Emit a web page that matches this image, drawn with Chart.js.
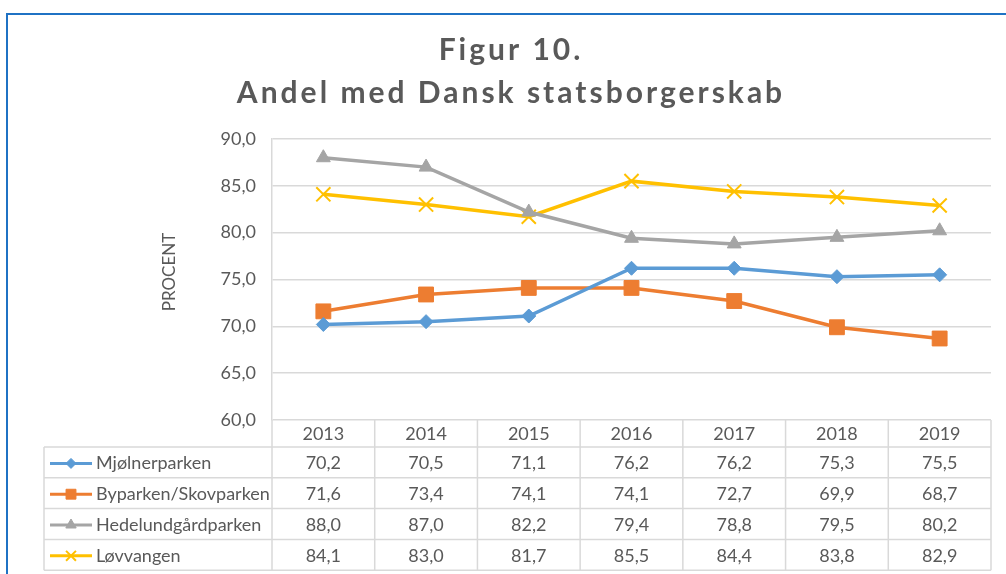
<!DOCTYPE html>
<html>
<head>
<meta charset="utf-8">
<script src="https://cdn.jsdelivr.net/npm/chart.js@4.4.1/dist/chart.umd.min.js"></script>
<style>
  html, body { margin: 0; padding: 0; background: #fff; }
  #wrap { width: 1006px; height: 574px; position: relative; }
</style>
</head>
<body>
<div id="wrap"><canvas id="figChart" width="1006" height="574"></canvas></div>
<script>
const years = ['2013', '2014', '2015', '2016', '2017', '2018', '2019'];
const mjolnerparken = [70.2, 70.5, 71.1, 76.2, 76.2, 75.3, 75.5];
const byparken = [71.6, 73.4, 74.1, 74.1, 72.7, 69.9, 68.7];
const hedelund = [88.0, 87.0, 82.2, 79.4, 78.8, 79.5, 80.2];
const lovvangen = [84.1, 83.0, 81.7, 85.5, 84.4, 83.8, 82.9];
const titleLines = ['Figur 10.', 'Andel med Dansk statsborgerskab'];
const yTitle = 'PROCENT';

const FONT = 'Lato, "Open Sans", sans-serif';
const TEXT = '#595959';
const GRID = '#d9d9d9';

const fmt = v => v.toFixed(1).replace('.', ',');

function series(label, data, color, style, radius, keyRadius) {
    return {
        label: label,
        data: data,
        borderColor: color,
        backgroundColor: color,
        borderWidth: 3.5,
        pointStyle: style,
        pointRadius: radius,
        pointHoverRadius: radius,
        pointBorderWidth: style === 'crossRot' ? 2 : 1,
        keyRadius: keyRadius,
        tension: 0
    };
}

// title, outer frame, axis title and the data table under the plot
const figurePlugin = {
    id: 'figure',
    beforeDraw(chart) {
        const ctx = chart.ctx;
        ctx.save();
        ctx.fillStyle = '#fff';
        ctx.fillRect(0, 0, chart.width, chart.height);
        ctx.strokeStyle = '#1f72c4';
        ctx.lineWidth = 2;
        ctx.strokeRect(7, 14, 1100, 700);
        ctx.restore();
    },
    afterDraw(chart) {
        const ctx = chart.ctx;
        const area = chart.chartArea;
        const xs = chart.scales.x;

        ctx.save();
        // title
        ctx.fillStyle = TEXT;
        ctx.font = 'bold 30px ' + FONT;
        ctx.textAlign = 'center';
        ctx.textBaseline = 'middle';
        ctx.letterSpacing = '3px';
        ctx.fillText(titleLines[0], 511, 50);
        ctx.fillText(titleLines[1], 511, 93);
        ctx.letterSpacing = '0px';

        // y axis title
        ctx.save();
        ctx.translate(170, 272);
        ctx.rotate(-Math.PI / 2);
        ctx.font = '17px ' + FONT;
        ctx.fillText(yTitle, 0, 0);
        ctx.restore();

        // table
        const colW = (area.right - area.left) / years.length;
        const headTop = area.bottom;
        const headBot = headTop + 27;
        const rowH = 30.8;
        const tableLeft = 44;
        const rows = chart.data.datasets;
        const tableBot = headBot + rowH * rows.length;

        ctx.strokeStyle = GRID;
        ctx.lineWidth = 1.5;
        ctx.beginPath();
        ctx.moveTo(tableLeft, headBot); ctx.lineTo(area.right, headBot);
        for (let r = 1; r <= rows.length; r++) {
            const y = headBot + rowH * r;
            ctx.moveTo(tableLeft, y); ctx.lineTo(area.right, y);
        }
        ctx.moveTo(tableLeft, headBot); ctx.lineTo(tableLeft, tableBot);
        for (let i = 0; i <= years.length; i++) {
            const x = area.left + colW * i;
            ctx.moveTo(x, headTop); ctx.lineTo(x, tableBot);
        }
        ctx.stroke();

        ctx.font = '18px ' + FONT;
        ctx.fillStyle = TEXT;
        ctx.textAlign = 'center';
        years.forEach((y, i) => {
            ctx.fillText(y, xs.getPixelForValue(i), (headTop + headBot) / 2 + 1);
        });

        rows.forEach((ds, r) => {
            const cy = headBot + rowH * r + rowH / 2 + 1;
            // legend key
            ctx.strokeStyle = ds.borderColor;
            ctx.lineWidth = 3;
            ctx.beginPath();
            ctx.moveTo(50, cy);
            ctx.lineTo(92, cy);
            ctx.stroke();
            ctx.fillStyle = ds.borderColor;
            ctx.lineWidth = ds.pointBorderWidth;
            Chart.helpers.drawPoint(ctx, {
                pointStyle: ds.pointStyle,
                radius: ds.keyRadius,
                rotation: 0,
                borderWidth: ds.pointBorderWidth
            }, 71, cy);

            ctx.fillStyle = TEXT;
            ctx.textAlign = 'left';
            ctx.fillText(ds.label, 96, cy);
            ctx.textAlign = 'center';
            ds.data.forEach((v, i) => {
                ctx.fillText(fmt(v), xs.getPixelForValue(i), cy);
            });
        });
        ctx.restore();
    }
};

new Chart(document.getElementById('figChart'), {
    type: 'line',
    data: {
        labels: years,
        datasets: [
            series('Mjølnerparken', mjolnerparken, '#5b9bd5', 'rectRot', 7, 5),
            series('Byparken/Skovparken', byparken, '#ed7d31', 'rect', 10.5, 7),
            series('Hedelundgårdparken', hedelund, '#a5a5a5', 'triangle', 8, 6),
            series('Løvvangen', lovvangen, '#ffc000', 'crossRot', 10, 7)
        ]
    },
    options: {
        responsive: false,
        animation: false,
        layout: { padding: { left: 154, right: 15, top: 139, bottom: 0 } },
        plugins: {
            legend: { display: false },
            title: { display: false },
            tooltip: { enabled: false }
        },
        scales: {
            x: {
                offset: true,
                grid: { display: false },
                border: { display: false },
                ticks: { display: false },
                afterFit(scale) { scale.height = 154; }
            },
            y: {
                min: 60,
                max: 90,
                ticks: {
                    stepSize: 5,
                    padding: 16,
                    color: TEXT,
                    font: { family: FONT, size: 18 },
                    callback: v => fmt(v)
                },
                grid: { color: GRID, lineWidth: 1.5, drawTicks: false },
                border: { display: true, color: GRID, width: 1.5 },
                title: { display: false },
                afterFit(scale) { scale.width = 118; }
            }
        }
    },
    plugins: [figurePlugin]
});
</script>
</body>
</html>
